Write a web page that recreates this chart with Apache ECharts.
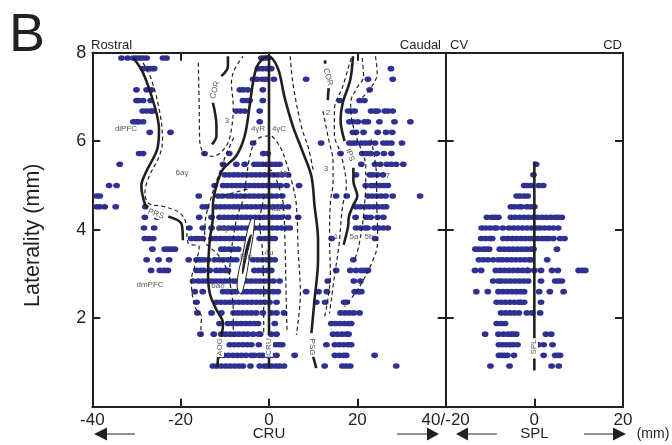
<!DOCTYPE html>
<html><head><meta charset="utf-8">
<style>html,body{margin:0;padding:0;background:#fff}#c{width:672px;height:445px}</style>
<script src="https://cdn.jsdelivr.net/npm/echarts@6/dist/echarts.min.js"></script></head>
<body><div id="c"></div>
<script>
// lateral position of every recorded site, per laterality row
const cruRows = [
[7.88,[-33.4,-32,-30.7,-30,-29.2,-28.5,-27.7,-24,-23.2,-1.7,-1,-0.2]],
[7.64,[-28.5,-27.5,-26.8,-26,-2.5,-1.5,-0.5,0.5,27.6]],
[7.40,[-3.6,-2.7,-1.5,-0.7,1.1,8.4,22.4,28]],
[7.16,[-30,-27.7,-26.6,-6.6,-5.8,-4.8,-1.4,22.8]],
[6.92,[-30,-29.5,-28.5,-26.8,-5.9,-5,-4.4,-1.4,16,20.5,21.6]],
[6.68,[-28.6,-27.7,-26.8,-26.3,-7.4,-6.5,-5.5,-2.1,17.9,18.6,19.4,23.1,24,24.6,26.2,27,28]],
[6.44,[-30.7,-30,-29.5,-28.5,-2.1,18.2,19,20.1,21.6,22.4,25,28.4,32]],
[6.20,[-27,-22.3,19,19.7,21.4,24.6,26.5,27.9]],
[5.96,[-3.6,11.8,18.2,19,19.7,20.9,21.8,22.7,24,25.9,26.8,27.7,30.1]],
[5.72,[-29.4,-28.5,-14.6,-9,-1.3,-0.3,16.2,18.2,21.1,22,23,24.4,26,27.7]],
[5.48,[-33.8,-10.4,-7.4,-5.5,-3.3,-2.5,-1.5,-0.5,0.6,1.5,2.4,20.9,24,25.2,26.7,27.7,28.8,30.4]],
[5.24,[-10,-9,-8,-7,-6,-5,-4,-3,-2,-1,0,1,2,3,4.3,19.7,22.8,23.5,24.5,25.8]],
[5.00,[-36.2,-34.5,-12.3,-10.4,-9.4,-8.4,-7.4,-6.4,-5.4,-4.4,-3.4,-2.4,-1.4,-0.4,0.6,1.6,2.6,4,6.8,21.9,23.1,24,25,26,26.9]],
[4.76,[-39,-38.3,-15.9,-11.5,-10.5,-9.3,-8.4,-7.4,-6.4,-5.4,-4.4,-3.4,-2.4,-1.4,-0.4,0.6,1.7,3,15.2,17.6,22.4,23.4,24.4,25.4,26.4,28,34.2]],
[4.52,[-39,-38.3,-37.2,-34.7,-28,-15,-14.2,-12,-11,-10,-9,-8,-7,-6,-5,-4,-3,-2,-1,0,1,2,3,4.3,19.7,20.7,21.7,22.7,23.7,24.7,25.7,26.5]],
[4.28,[-28.1,-25.3,-15.8,-13,-11.2,-10.2,-9.2,-8.2,-7.2,-6.2,-5.2,-4.2,-3.2,-2.2,-1.2,-0.2,0.8,1.8,2.8,4.3,6.6,19.6,22,23,24.6,25.9]],
[4.04,[-28.3,-26,-18,-15,-13,-11.2,-10.2,-9.2,-8.2,-7.2,-6.2,-5.2,-4.2,-3.2,-2.2,-1.2,-0.2,0.8,1.8,2.8,3.8,4.7,19.7,20.7,21.7,22.3,23.9,24.9,25.9,26.9]],
[3.80,[-28.1,-27.2,-26.2,-17.6,-16.6,-16,-15,-13,-12,-11,-10,-9,-8,-7,-6,-5,-2.1,-1,-0.2,0.5,1.3,14.2,24]],
[3.56,[-26.4,-23.6,-22.8,-22,-21.3,-10.8,-10,-9,-8,-7]],
[3.32,[-27.7,-25,-22.6,-18.2,-16.4,-15.6,-14.8,-13.8,-12.3,-11.3,-10.3,-9.3,-8.4,-7.4,-3.6,-2.6,-1.6,-0.6,0.4,1.3,19.1]],
[3.08,[-26.7,-24.7,-23.7,-22.9,-16.4,-15.5,-14.8,-13.4,-11.9,-11,-10,-9.3,-3.3,-2.4,-1.4,-0.4,0.5,15.2,18.4,19.7,20.9,21.7,22.4]],
[2.84,[-17.2,-16,-15,-14,-13,-12,-11,-10,-9,-8,-7.2,-6,-5,-4,-3,-2,-1,0,1,2.4,13.3,19.2,20.7]],
[2.60,[-16.8,-15,-10.4,-9.4,-8.4,-7.4,-6,-5,-4,-3,-2,-1,0,1,2,19.4,20.2,20.9,8.4,11.2,13.1]],
[2.36,[-16.4,-11.9,-10.9,-9.9,-8.9,-7.9,-6.9,-5.9,-4.9,-3.9,-2.9,-1.9,-0.9,0.1,1.7,10.7,12.7,17,17.6]],
[2.12,[-16.2,-13,-10.8,-8,-7,-6,-5,-4,-2.9,-1.4,0.5,1.7,3.4,16.2,17.2,18.2,19.2,20.5]],
[1.88,[-11.2,-9.3,-8.3,-7.3,-6.3,-5.3,-4.3,-3.3,-2.5,1.3,14.1,15.1,16.1,17.1,18,18.6]],
[1.64,[-15.5,-12.5,-10.8,-9.8,-8.8,-7.8,-6.8,-5.8,-4.8,-3.6,-2.3,-2,0.5,1.7,14.5,15.5,16.5,17.5,18]],
[1.40,[-11.2,-8.9,-7.9,-6.9,-5.9,-4.9,-4,-2.3,0.5,1.5,2.3,3,13,14.9,15.9,16.9,17.9,18.6]],
[1.16,[-11.2,-10.2,-9.2,-8.2,-7.2,-6.2,-5.2,-4,-3.3,-2.2,-1.4,-0.4,0.6,1.7,5.8,14.9,15.9,16.9,17.5,23.9]],
[0.92,[-12.7,-11.8,-10.8,-9.8,-8.8,-7.8,-6.8,-5.9,-4.2,-2.1,-1,-0.3,0.6,1.6,2.4,3.4,12.6,16.6,17.5,18.4,28.8]]
];
const splRows = [
[5.48,[0.4]],
[5.24,[-0.2]],
[5.00,[-2.3,-1.5,-0.6,1,2]],
[4.76,[-4,-3.2,-2.3,-1.5]],
[4.52,[-5.3,-4.5,-3.5,-2.9,-1.7,-0.8,0]],
[4.28,[-10.7,-9.6,-8.9,-8.1,-5.3,-4.3,-3.3,-2.3,-1.3,-0.3,0.7,1.7,2.7,3.7,4.7,5.4,6.2]],
[4.04,[-11.9,-11,-10,-9,-8.5,-7.1,-5.7,-4.7,-3.7,-2.7,-1.7,-0.7,0.5,1.3,2.3,3.3,4.3,5.4]],
[3.80,[-12,-11,-10,-9.5,-7,-6,-5,-4,-3,-2,-1,-0.2,0.8,1.8,2.6,3.2,4.3,5.8,6.8]],
[3.56,[-13.3,-12.5,-11.5,-10.9,-10.2,-7.8,-6.8,-5.8,-4.8,-3.8,-2.8,-1.8,-0.8,-0.2,5.1]],
[3.32,[-12.5,-11.5,-10.5,-9.3,-8.1,-7.2,-6.2,-5.2,-4.2,-3.2,-2.2,-1.2,-0.8,2.9]],
[3.08,[-13.4,-12,-8.7,-7.7,-6.7,-5.7,-4.7,-3.7,-2.7,-1.7,-1.4,0,1.5,4,5.3,10,10.8,11.5]],
[2.84,[-9.3,-8.1,-7.4,-6.4,-5.4,-4.4,-3.4,-2.4,-1.4,1.5,4.7,5.5,6.2]],
[2.60,[-13.1,-10.5,-8.1,-7.1,-6.1,-5.1,-4.1,-3.1,-2.3,1.1,3.5,6.6]],
[2.36,[-8.5,-7.5,-6.5,-5.5,-4.5,-3.5,-3,-2.3,1.5]],
[2.12,[-7.5,-6.5,-5.5,-4.5,-3.5,-1.7,-0.5,1.3]],
[1.88,[-8.5,-7.5,-6.6]],
[1.64,[-11.1,-8.1,-7,-6,-5.2,-4.7,-4.1,2.6,3.8]],
[1.40,[-8,-7.2,-6.3,-5.5,-4.7,-3.8,0.9,2.1,4.1]],
[1.16,[-8,-7.4,-6.8,-6.1,-4.6,2.1,4.7,5.3,5.8]],
[0.92,[-9.9,-5.6,3.9,5.5]]
];
// sulcal outlines, [mm, laterality]
const sulcusPRSa = [[-30.7,7.88],[-28.5,7.54],[-25.9,6.79],[-24.9,6.27],[-25.3,5.82],[-27.7,5.33],[-28.9,4.99],[-28.1,4.58],[-27.4,4.49]];
const sulcusPRSb = [[-22.8,4.30],[-19.8,4.13],[-19.5,3.76]];
const sulcusCentral = [[-11.7,0.9],[-11.5,1.13]];
const sulcusAOG = [[-10.8,1.58],[-10.4,1.88],[-11.9,2.19],[-13.4,2.56],[-13.8,3.02],[-13.4,3.77],[-12.7,4.3],[-12.7,4.55],[-11.9,4.99],[-10.4,5.37],[-7.4,5.67],[-5.5,6.12],[-4.4,6.79],[-3.5,7.39],[-2.5,7.73],[-0.2,7.92],[2,7.65],[3.5,7.0],[5.4,6.34],[7.7,5.74],[9.6,5.21],[10.3,4.55],[11.1,3.77],[11.1,3.32],[10.3,2.41],[9.6,1.66]];
const sulcusPSG = [[10,1.13],[10.7,0.87]];
const sulcusCRUa = [[0,7.95],[0,1.62]];
const sulcusCRUb = [[0,1.1],[0,0.87]];
const sulcusCORa = [[-9.3,7.92],[-9.3,7.69],[-10.8,7.47]];
const sulcusCORb = [[-12.7,6.87],[-11.9,6.35],[-11.9,6.12],[-12.9,5.93]];
const sulcusCORc = [[12.7,7.83],[12.7,7.75]];
const sulcusCORd = [[13.5,7.2],[13.3,6.93]];
const sulcusIPSa = [[19,7.92],[18.4,7.39],[16.7,6.87],[16.2,6.49],[17.1,6.0]];
const sulcusIPSb = [[19.1,5.4],[19.1,5.1],[20,4.76],[19,4.54],[18.1,4.3],[17.9,4.07],[16.9,3.66]];
const sulcusSPLa = [[0,5.54],[0,1.54]];
const sulcusSPLb = [[0,1.09],[0,0.82]];
const borderA = [[-28.5,7.77],[-26.6,7.39],[-24.7,6.64],[-24.1,6.04],[-24.7,5.7],[-27.4,5.14],[-28.1,4.8],[-27,4.58],[-24,4.53],[-20.2,4.38],[-18.8,4.15],[-18.3,3.70],[-15.8,3.61],[-16.8,3.17],[-17.6,2.87],[-16.8,2.26],[-15.3,2.04],[-15.5,1.62]];
const borderB = [[-16,7.77],[-15.8,6.79],[-15.7,6.04],[-14.6,5.70],[-12.7,5.66],[-9.7,5.89],[-8.5,6.27],[-8.1,6.79],[-8.5,7.32],[-7.8,7.62],[-5.9,7.92]];
const borderC = [[-8,6.08],[-9.7,5.7],[-11.2,5.29],[-13,4.76],[-14.4,4.22],[-14.6,3.73]];
const borderD = [[-14.2,3.67],[-11.2,3.39],[-8.9,2.98]];
const borderE = [[-8.1,1.58],[-8.1,2.19],[-8.9,2.98],[-7.4,4.22],[-5.9,4.68],[-4.4,5.63],[-3.3,5.97],[-2.1,6.08],[0.2,6.12],[2.4,5.89],[3.9,5.52],[5.4,4.99],[6.2,4.55],[6.6,3.55],[7.1,2.56],[6.2,1.62]];
const borderF = [[-1,4.77],[-2.1,4.15],[-1.5,3.55],[-1.2,2.41],[-1.2,1.62]];
const borderG = [[-10.4,4.77],[-4.8,4.92]];
const borderH = [[-1.3,5.48],[0.9,5.29],[2.4,4.92],[3.2,4.6],[3.6,3.77],[3.9,2.41],[4.1,1.66]];
const borderI = [[4.8,7.92],[5.4,7.32],[7.3,6.34],[9,5.82],[10.1,5.29]];
const borderJ = [[12.2,6.68],[13.5,6.04],[14.5,5.52],[14.5,5.07],[13.9,4.62],[13.7,3.77],[13.9,3.0],[13.3,2.41],[12.6,2.03]];
const borderK = [[18.6,7.88],[16.7,7.24],[14.8,6.72],[14.8,6.16],[16.4,5.67],[17.5,4.99],[16.7,4.55],[16.4,4.3],[15.8,3.62],[14.8,2.94],[13.7,2.11]];
const borderL = [[21.1,7.88],[21.4,7.47],[19.7,7.17],[18.5,6.87],[18.6,6.57],[19.7,6.12],[21.9,5.42],[21.9,4.97],[21.6,4.55],[21.3,4.22],[20.3,3.62],[19.4,3.32]];
const borderM = [[24.1,7.92],[24.5,7.54],[22.8,7.17],[20.5,6.94]];
const borderN = [[23.1,6.04],[24.3,5.29],[24.4,4.55],[24.6,3.77],[23.9,3.4],[20.5,2.71],[17.1,2.26]];
const arcuateOutline = [[-3.6,4.26],[-3.3,4.15],[-4.4,3.39],[-5.9,2.64],[-6.6,2.56],[-7.2,2.79],[-5.9,3.47],[-4.4,4.15]];
const arcuateFundus = [[-4,3.88],[-5.1,3.39],[-6,3],[-5.5,3.43],[-4.4,3.84]];
const xTicksCRU = [-40,-20,0,20,40];
const xTicksSPL = [-20,0,20];
const yTicks = [2,4,6,8];

const INK='#231f20', BLUE='#2e3192', GREY='#58595b', FONT='"Liberation Sans",Arial,sans-serif';
const flat = rows => rows.flatMap(([y,xs]) => xs.map(x => [x,y]));
const solids = [sulcusPRSa,sulcusPRSb,sulcusCentral,sulcusAOG,sulcusPSG,sulcusCRUa,sulcusCRUb,sulcusCORa,sulcusCORb,sulcusCORc,sulcusCORd,sulcusIPSa,sulcusIPSb];
const dashes = [borderA,borderB,borderC,borderD,borderE,borderF,borderG,borderH,borderI,borderJ,borderK,borderL,borderM,borderN];
const curve = (data,w,dash,xi,yi) => ({type:'line',data,xAxisIndex:xi,yAxisIndex:yi,smooth:0.35,showSymbol:false,silent:true,z:4,
  lineStyle:{color:INK,width:w,type:dash?[4,3]:'solid',cap:'butt'}});
const shape = (pts,fill,stroke) => ({type:'custom',xAxisIndex:0,yAxisIndex:0,z:5,silent:true,data:[0],
  renderItem:(p,api)=>({type:'polygon',shape:{points:pts.map(q=>api.coord(q)),smooth:0.5},style:{fill,stroke,lineWidth:1}})});
const side = (pos,grid,extra) => Object.assign({type:'value',gridIndex:grid,position:pos,min:0,max:8,interval:2,
  splitLine:{show:false},axisLine:{show:true,onZero:false,lineStyle:{color:INK,width:2}},
  axisTick:{show:true,inside:true,length:8,lineStyle:{color:INK,width:2}},axisLabel:{show:false}},extra||{});
const across = (pos,grid,min,max,extra) => Object.assign({type:'value',gridIndex:grid,position:pos,min,max,interval:20,
  splitLine:{show:false},axisLine:{show:true,onZero:false,lineStyle:{color:INK,width:2}},
  axisTick:{show:true,inside:true,length:8,lineStyle:{color:INK,width:2}},axisLabel:{show:false}},extra||{});
const tickText = {show:true,color:INK,fontFamily:FONT,fontSize:17,margin:5,showMinLabel:true,showMaxLabel:true,hideOverlap:false};
const axisName = {color:INK,fontFamily:FONT,fontSize:15};

const txt = (x,y,text,o={}) => ({type:'text',x,y,rotation:(o.rot||0)*Math.PI/180,z:20,silent:true,
  style:{text,fill:o.c||GREY,font:(o.s||8)+'px '+FONT,align:o.a||'center',verticalAlign:'middle',
         backgroundColor:o.bg||null,padding:o.bg?[0,1]:0}});
const arrow = (x1,x2,base,y) => ([
  {type:'line',z:20,silent:true,shape:{x1,y1:y,x2:base,y2:y},style:{stroke:INK,lineWidth:1}},
  {type:'polygon',z:20,silent:true,shape:{points:[[x2,y],[base,y-6.5],[base,y+6.5]]},style:{fill:INK}}
]);

const chart = echarts.init(document.getElementById('c'),null,{renderer:'canvas'});
chart.setOption({
  animation:false,backgroundColor:'#fff',
  grid:[{left:92.3,top:52.7,width:353.4,height:354,outerBoundsMode:'none'},{left:445.7,top:52.7,width:177.3,height:354,outerBoundsMode:'none'}],
  xAxis:[
    across('bottom',0,xTicksCRU[0],xTicksCRU[4],{axisLabel:Object.assign({},tickText,{formatter:v=>v===40?'40/-20':String(v)}),
      name:'CRU',nameLocation:'middle',nameGap:20,nameMoveOverlap:false,nameTextStyle:axisName}),
    across('top',0,xTicksCRU[0],xTicksCRU[4]),
    across('bottom',1,xTicksSPL[0],xTicksSPL[2],{axisLabel:Object.assign({},tickText,{formatter:v=>v===-20?'':String(v)}),
      name:'SPL',nameLocation:'middle',nameGap:20,nameMoveOverlap:false,nameTextStyle:axisName}),
    across('top',1,xTicksSPL[0],xTicksSPL[2],{axisTick:{show:false}})
  ],
  yAxis:[
    side('left',0,{axisLabel:Object.assign({},tickText,{fontSize:18,margin:6,formatter:v=>yTicks.includes(v)?String(v):''}),
      name:'Laterality (mm)',nameLocation:'middle',nameGap:48,nameMoveOverlap:false,nameTextStyle:{color:INK,fontFamily:FONT,fontSize:21.5,padding:[0,11,0,0]}}),
    side('right',0),
    side('left',1),
    side('right',1)
  ],
  series:[
    {type:'scatter',name:'CRU sites',xAxisIndex:0,yAxisIndex:0,data:flat(cruRows),symbolSize:[6.8,5.6],itemStyle:{color:BLUE,opacity:1},silent:true,z:2},
    {type:'scatter',name:'SPL sites',xAxisIndex:2,yAxisIndex:2,data:flat(splRows),symbolSize:[6.8,5.6],itemStyle:{color:BLUE,opacity:1},silent:true,z:2},
    ...dashes.map(d=>curve(d,1.2,true,0,0)),
    ...solids.map(d=>curve(d,2.6,false,0,0)),
    curve(sulcusSPLa,2.6,false,2,2),
    curve(sulcusSPLb,2.6,false,2,2),
    shape(arcuateOutline,'#fff',INK),
    shape(arcuateFundus,INK,INK)
  ],
  graphic:[
    txt(27,36,'B',{s:54,c:INK}),
    txt(91,45,'Rostral',{s:13,c:INK,a:'left'}),
    txt(441,45,'Caudal',{s:13,c:INK,a:'right'}),
    txt(450,45,'CV',{s:13,c:INK,a:'left'}),
    txt(622,45,'CD',{s:13,c:INK,a:'right'}),
    txt(653,434,'(mm)',{s:14,c:INK}),
    ...arrow(135,94,107,434),...arrow(397,439,427,434),...arrow(497,456,468,434),...arrow(584,626,613,434),
    txt(126,129,'dlPFC'),txt(182,173,'6aγ'),txt(227,121,'3'),txt(258,129,'4γR'),txt(279,129,'4γC'),
    txt(215,90,'COR',{rot:75,bg:'#fff'}),txt(328,77,'COR',{rot:-75,bg:'#fff'}),txt(328,113,'2'),txt(326,169,'3'),
    txt(350,155,'IPS',{rot:-70,bg:'#fff'}),txt(388,176,'7'),txt(283,174,'4δ'),txt(223,229,'6aβ'),
    txt(156,214,'PRS',{rot:-20,bg:'#fff'}),txt(246,257,'Bfu'),txt(269,253,'4u'),txt(150,285,'dmPFC'),txt(218,286,'6aδ'),
    txt(220,347,'AOG',{rot:90,bg:'#fff'}),txt(269,347,'CRU',{rot:90,bg:'#fff'}),txt(312,347,'PSG',{rot:-90,bg:'#fff'}),
    txt(336,237,'1'),txt(354,237,'5a'),txt(369,237,'5b'),txt(275,209,'4at'),txt(534,347,'SPL',{rot:90,bg:'#fff'})
  ]
});
</script></body></html>
